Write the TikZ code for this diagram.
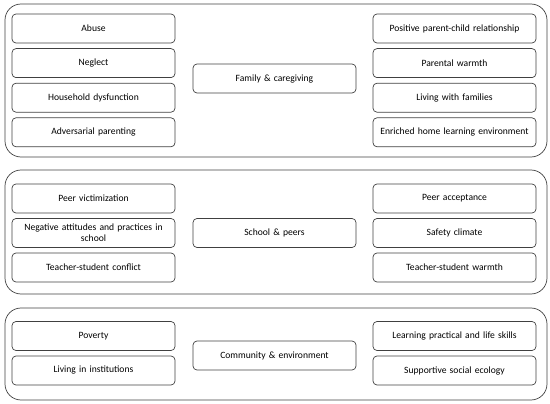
\documentclass[tikz,border=0pt]{standalone}
\usepackage{fontspec}
\setmainfont{Carlito}
\tikzset{
  factor/.style={draw=black!75, line width=0.7pt, rounded corners=4pt,
    minimum width=163pt, minimum height=29pt, text width=157pt,
    inner sep=2pt, align=center, font=\fontsize{9.6}{11}\selectfont},
  groupbox/.style={draw=black!75, line width=0.7pt, rounded corners=16pt}
}
\begin{document}
\begin{tikzpicture}[x=1pt,y=-1pt]
    \useasboundingbox (0,0) rectangle (550,404);
    % family and caregiving
    \draw[groupbox] (5,4) rectangle (547,157);
    \node[factor] (family) at (274.5,78.5) {Family \& caregiving};
    \foreach \name/\txt [count=\i] in {abuse/Abuse,neglect/Neglect,
      household/Household dysfunction,adversarial/Adversarial parenting}
    \node[factor] (\name) at (93.5,{28.5+34.6*(\i-1)}) {\txt};
    \foreach \name/\txt [count=\i] in {relation/Positive parent-child relationship,
      warmth/Parental warmth,living/Living with families,
      enriched/Enriched home learning environment}
    \node[factor] (\name) at (454.5,{28.5+34.6*(\i-1)}) {\txt};
    % school and peers
    \draw[groupbox] (5,170) rectangle (547,294);
    \node[factor] (school) at (274.5,233) {School \& peers};
    \foreach \name/\txt [count=\i] in {victim/Peer victimization,
      negative/{Negative attitudes and practices in\\school},
      conflict/Teacher-student conflict}
    \node[factor] (\name) at (93.5,{198.5+34.5*(\i-1)}) {\txt};
    \foreach \name/\txt [count=\i] in {accept/Peer acceptance,
      safety/Safety climate,tswarmth/Teacher-student warmth}
    \node[factor] (\name) at (454.5,{198.5+34.5*(\i-1)}) {\txt};
    % community and environment
    \draw[groupbox] (5,308) rectangle (547,400);
    \node[factor] (community) at (274.5,355.5) {Community \& environment};
    \node[factor] (poverty) at (93.5,336) {Poverty};
    \node[factor] (institutions) at (93.5,370.5) {Living in institutions};
    \node[factor] (skills) at (454.5,336) {Learning practical and life skills};
    \node[factor] (ecology) at (454.5,370.5) {Supportive social ecology};
\end{tikzpicture}
\end{document}
